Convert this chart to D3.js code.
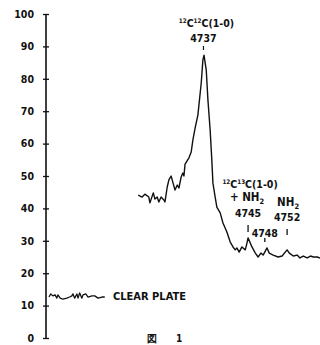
<!DOCTYPE html>
<html><head><meta charset="utf-8">
<script src="https://cdn.jsdelivr.net/npm/d3@7"></script>
<style>
html,body{margin:0;padding:0;background:#fff;}
svg{display:block;}
text{font-family:"DejaVu Sans Condensed","DejaVu Sans",sans-serif;font-weight:bold;fill:#111;}
</style></head><body>
<svg id="c" width="320" height="345"></svg>
<script>
// Y axis ticks
const yTicks = [0,10,20,30,40,50,60,70,80,90,100];
// Main spectrum: wavelength (Å) and intensity
const specWl = [4725.3,4726.0,4726.5,4727.2,4727.4,4728.0,4728.3,4728.7,4729.0,4729.4,4729.9,4730.1,4730.5,4730.8,4731.2,4731.5,4731.9,4732.3,4732.6,4733.0,4733.3,4733.5,4733.7,4734.4,4734.8,4735.1,4735.5,4736.0,4736.6,4736.9,4737.1,4737.5,4737.8,4738.2,4738.5,4738.7,4739.1,4739.4,4740.0,4740.5,4741.2,4741.8,4742.3,4742.7,4743.0,4743.4,4743.9,4744.5,4744.8,4745.0,4745.7,4746.3,4746.8,4747.3,4747.7,4748.4,4748.8,4749.5,4750.4,4751.1,4752.0,4752.4,4753.1,4753.8,4754.3,4754.9,4755.6,4756.2,4756.7,4757.4,4757.9];
const specVal = [44.1,43.5,44.4,43.5,41.7,44.8,42.9,43.5,42.0,43.5,42.6,42.0,46.6,48.8,50.0,48.1,45.7,47.2,46.3,49.7,50.9,50.0,53.7,55.6,57.4,61.1,64.8,68.8,78.7,85.8,87.3,82.7,73.5,64.2,54.9,47.8,43.5,40.4,38.6,35.5,32.7,29.6,28.1,27.2,27.8,26.5,28.1,27.2,29.3,30.9,28.1,26.2,25.0,26.2,25.6,27.8,26.2,25.6,25.0,25.3,27.2,26.2,25.3,25.6,24.7,25.3,24.7,25.3,25.0,25.0,24.7];
// Clear plate trace
const plateWl = [4709.3,4709.6,4710.0,4710.4,4710.7,4710.9,4711.3,4711.8,4712.5,4713.0,4713.4,4713.6,4713.9,4714.3,4714.5,4714.8,4715.2,4715.4,4715.9,4716.3,4717.0,4717.5,4718.1,4718.8,4719.3];
const plateVal = [12.65,13.6,13.0,13.3,12.3,13.3,12.3,12.0,12.3,12.65,13.0,13.6,12.3,13.6,12.3,13.9,12.3,13.3,13.6,12.65,13.0,13.0,12.3,12.65,12.65];
// Line identifications
const lineWl = [4745,4748,4752];
const lineLabel = ["4745","4748","4752"];

const svg = d3.select("#c");
const x = d3.scaleLinear().domain([4709.3,4757.9]).range([49,320]);
const y = d3.scaleLinear().domain([0,100]).range([338,14]);
const axisX = 46;

// axis
const ax = svg.append("g").attr("transform",`translate(${axisX},0)`)
  .call(d3.axisLeft(y).tickValues(yTicks).tickSize(3).tickSizeOuter(0).tickPadding(9));
ax.select(".domain").remove();
ax.selectAll(".tick line").attr("x1",-3).attr("x2",3).attr("stroke","#111").attr("stroke-width",1.3);
ax.selectAll(".tick text").attr("font-size",10.5).attr("font-family",'"DejaVu Sans Condensed",sans-serif').attr("font-weight","bold").attr("fill","#111");
ax.append("line").attr("x1",0).attr("x2",0).attr("y1",y(100)).attr("y2",y(0)).attr("stroke","#111").attr("stroke-width",1.6);

const line = d3.line().x(d=>x(d[0])).y(d=>y(d[1]));
svg.append("path").datum(specWl.map((w,i)=>[w,specVal[i]]))
  .attr("d",line).attr("fill","none").attr("stroke","#111").attr("stroke-width",1.4).attr("stroke-linejoin","round");
svg.append("path").datum(plateWl.map((w,i)=>[w,plateVal[i]]))
  .attr("d",line).attr("fill","none").attr("stroke","#111").attr("stroke-width",1.3).attr("stroke-linejoin","round");

// labels
function sup(t, parts, fs){
  parts.forEach(p=>{
    const ts = t.append("tspan").text(p[0]);
    if(p[1]==="sup") ts.attr("font-size",fs*0.6).attr("dy",-fs*0.4);
    else if(p[1]==="sub") ts.attr("font-size",fs*0.65).attr("dy",fs*0.3);
    else if(p[1]==="up") ts.attr("dy",fs*0.4);
  });
}
const fs = 10.5;
let t = svg.append("text").attr("x",x(4737)+3).attr("y",27).attr("text-anchor","middle").attr("font-size",fs);
sup(t,[["12","sup"],["C","up"],["12","sup"],["C(1-0)","up"]],fs);
svg.append("text").attr("x",x(4737)).attr("y",42).attr("text-anchor","middle").attr("font-size",fs).text("4737");
svg.append("line").attr("x1",x(4737)).attr("x2",x(4737)).attr("y1",46).attr("y2",50).attr("stroke","#111").attr("stroke-width",1.2);

t = svg.append("text").attr("x",x(4745)+2).attr("y",188).attr("text-anchor","middle").attr("font-size",fs);
sup(t,[["12","sup"],["C","up"],["13","sup"],["C(1-0)","up"]],fs);
t = svg.append("text").attr("x",x(4745)-1).attr("y",201).attr("text-anchor","middle").attr("font-size",fs+1);
sup(t,[["+ NH",""],["2","sub"]],fs+1);
t = svg.append("text").attr("x",x(4752)+1).attr("y",206).attr("text-anchor","middle").attr("font-size",fs+1);
sup(t,[["NH",""],["2","sub"]],fs+1);

const labY = {4745:217,4748:237,4752:221};
const tickY = {4745:[225,232],4748:[238,242],4752:[229,235]};
lineWl.forEach((w,i)=>{
  svg.append("text").attr("x",x(w)).attr("y",labY[w]).attr("text-anchor","middle").attr("font-size",fs).text(lineLabel[i]);
  svg.append("line").attr("x1",x(w)).attr("x2",x(w)).attr("y1",tickY[w][0]).attr("y2",tickY[w][1]).attr("stroke","#111").attr("stroke-width",1.3);
});

svg.append("text").attr("x",113).attr("y",300).attr("font-size",10.5).attr("textLength",73).attr("lengthAdjust","spacingAndGlyphs").text("CLEAR PLATE");
svg.append("text").attr("x",147).attr("y",342).attr("font-size",10).attr("font-family",'"Noto Sans CJK JP",sans-serif').attr("font-weight","normal").text("図");
svg.append("text").attr("x",176).attr("y",342).attr("font-size",10).attr("font-weight","normal").text("1");
</script>
</body></html>
